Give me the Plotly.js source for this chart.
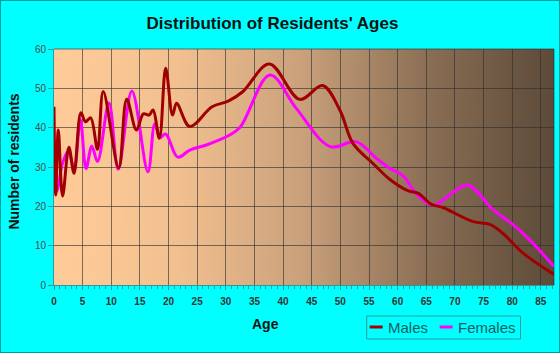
<!DOCTYPE html>
<html><head><meta charset="utf-8">
<script src="https://cdn.plot.ly/plotly-3.0.1.min.js"></script>
<style>html,body{margin:0;padding:0;background:#00ffff}#wrap{position:relative;width:560px;height:353px}#border{position:absolute;left:0;top:0;width:560px;height:353px;box-sizing:border-box;border:1px solid #009a9a;pointer-events:none}</style>
</head><body>
<div id="wrap"><div id="chart" style="width:560px;height:353px"></div><div id="border"></div></div>
<script>
// Data
const maleAges = [0, 0.3, 0.75, 1.5, 2.6, 3.5, 4.7, 5.5, 6.4, 7.6, 8.6, 11.3, 12.7, 14.4, 15.6, 16.6, 17.3, 18.4, 19.5, 20.7, 21.4, 23.7, 27.6, 30.5, 33, 37.6, 42.9, 46.9, 49.9, 52.2, 55.7, 58.6, 61.9, 63.6, 65.9, 67.9, 73.2, 76.1, 78.4, 81.9, 87.3];
const maleCounts = [45.3, 22.9, 39.4, 22.6, 35, 28.4, 43.8, 41.5, 42.5, 34.5, 49.2, 29.8, 47.2, 39.4, 43.5, 43.2, 44.5, 37.3, 55.1, 43.2, 46.2, 40.3, 45.3, 46.8, 49.2, 56.2, 47.2, 50.7, 44.5, 36, 30.9, 26.9, 23.9, 23.3, 20.5, 19.7, 16.1, 15.4, 13.1, 8.1, 2.7];
const femaleAges = [0, 0.5, 1.5, 2.5, 3.5, 4.6, 5.6, 6.6, 7.6, 9.6, 11.2, 13.6, 16.4, 17.6, 18.5, 19.5, 21.6, 23.7, 26.6, 30.5, 32.5, 37.7, 42.3, 48.2, 52.8, 56.3, 58.6, 61, 63.3, 66.2, 69.1, 72.2, 76.7, 80.2, 83.1, 87.3];
const femaleCounts = [23.5, 24, 31, 34, 29.5, 42, 29.6, 35.3, 31.4, 46.3, 29.4, 49.3, 28.8, 41, 37.5, 38.4, 32.5, 34.3, 35.6, 38, 40.1, 53.4, 44.9, 35.2, 36.4, 32.2, 29.7, 27.7, 23.1, 20.3, 22.9, 25.4, 19.1, 15.3, 11.4, 4.7];
const seriesNames = ['Males', 'Females'];
const seriesColors = ['#a00000', '#ff00ff'];
const xTickVals = [0,5,10,15,20,25,30,35,40,45,50,55,60,65,70,75,80,85];
const yTickVals = [0,10,20,30,40,50,60];

// gradient background image
const cv = document.createElement('canvas');
cv.width = 500; cv.height = 10;
const cx = cv.getContext('2d');
const g = cx.createLinearGradient(0,0,500,0);
g.addColorStop(0, '#ffcc99');
g.addColorStop(0.25, '#f2c08f');
g.addColorStop(0.5, '#c9a07b');
g.addColorStop(0.75, '#8a6e54');
g.addColorStop(1, '#5c4a39');
cx.fillStyle = g; cx.fillRect(0,0,500,10);
const bgURL = cv.toDataURL('image/png');

const L=54, R=554.5, T=49, B=285;
const pw = R-L, ph = B-T;
const px = x => (x-L)/pw, py = y => (B-y)/ph;

const maleTrace = {x: maleAges, y: maleCounts, name: seriesNames[0], mode: 'lines', line: {color: seriesColors[0], width: 3, shape: 'spline', smoothing: 1}};
const femaleTrace = {x: femaleAges, y: femaleCounts, name: seriesNames[1], mode: 'lines', line: {color: seriesColors[1], width: 3, shape: 'spline', smoothing: 1}};
// males drawn on top
const data = [femaleTrace, maleTrace];

const gridc = 'rgba(45,45,45,0.62)';
const axc = '#2e9a9a';
const legc = '#1a5c5c';
// legend (drawn with shapes + text in pixel layout)
const legY = 327;
const legendShapes = [
 {type: 'rect', xref: 'paper', yref: 'paper', x0: px(367), x1: px(521), y0: py(316), y1: py(339), line: {color: axc, width: 1}, fillcolor: 'rgba(0,0,0,0)'},
 {type: 'line', xref: 'paper', yref: 'paper', x0: px(370), x1: px(383), y0: py(legY), y1: py(legY), line: {color: seriesColors[0], width: 3}},
 {type: 'line', xref: 'paper', yref: 'paper', x0: px(440), x1: px(453), y0: py(legY), y1: py(legY), line: {color: seriesColors[1], width: 3}}
];
const legendText = [
 {text: seriesNames[0], xref: 'paper', yref: 'paper', x: px(386), y: py(legY+0.5), showarrow: false, xanchor: 'left', yanchor: 'middle', font: {size: 15, color: legc}},
 {text: seriesNames[1], xref: 'paper', yref: 'paper', x: px(456), y: py(legY+0.5), showarrow: false, xanchor: 'left', yanchor: 'middle', font: {size: 15, color: legc}}
];

const layout = {
 width: 560, height: 353,
 paper_bgcolor: '#00ffff', plot_bgcolor: 'rgba(0,0,0,0)',
 margin: {l: L, r: 560-R, t: T, b: 353-B, pad: 0},
 font: {family: 'Liberation Sans, Arial, sans-serif'},
 title: {text: "Distribution of Residents' Ages", x: 272.5/560, xanchor: 'center', xref: 'container', y: 1-23/353, yanchor: 'middle', font: {size: 17, color: '#111', weight: 'bold'}},
 xaxis: {range: [0, 87.3], tickvals: xTickVals, ticktext: xTickVals.map(String), showgrid: true, gridcolor: gridc, gridwidth: 1, zeroline: false, showline: true, linecolor: axc, linewidth: 1, ticks: 'outside', ticklen: 4, tickcolor: axc, ticklabelstandoff: 3, tickfont: {size: 10, color: '#333', weight: 'bold'}, minor: {dtick: 1, ticks: 'outside', ticklen: 3, tickcolor: axc, showgrid: false}, fixedrange: true},
 yaxis: {range: [0, 60], tickvals: yTickVals, showgrid: true, gridcolor: gridc, gridwidth: 1, zeroline: false, showline: true, linecolor: axc, linewidth: 1, ticks: 'outside', ticklen: 5, tickcolor: axc, tickfont: {size: 10, color: '#4a4a4a'}, fixedrange: true},
 images: [{source: bgURL, xref: 'paper', yref: 'paper', x: 0, y: 1, sizex: 1, sizey: 1, sizing: 'stretch', xanchor: 'left', yanchor: 'top', layer: 'below'}],
 shapes: [
  {type: 'line', xref: 'paper', yref: 'paper', x0: 0, x1: 1, y0: 1, y1: 1, line: {color: gridc, width: 1}, layer: 'below'},
  {type: 'line', xref: 'paper', yref: 'paper', x0: 1, x1: 1, y0: 0, y1: 1, line: {color: gridc, width: 1}, layer: 'below'}
 ].concat(legendShapes),
 annotations: [
  {text: 'Number of residents', xref: 'paper', yref: 'paper', x: px(13), y: py(161.5), textangle: -90, showarrow: false, xanchor: 'center', yanchor: 'middle', font: {size: 14, color: '#111', weight: 'bold'}},
  {text: 'Age', xref: 'paper', yref: 'paper', x: px(266), y: py(324), showarrow: false, xanchor: 'center', yanchor: 'middle', font: {size: 14, color: '#111', weight: 'bold'}}
 ].concat(legendText),
 showlegend: false
};
Plotly.newPlot('chart', data, layout, {staticPlot: true});
</script>
</body></html>
